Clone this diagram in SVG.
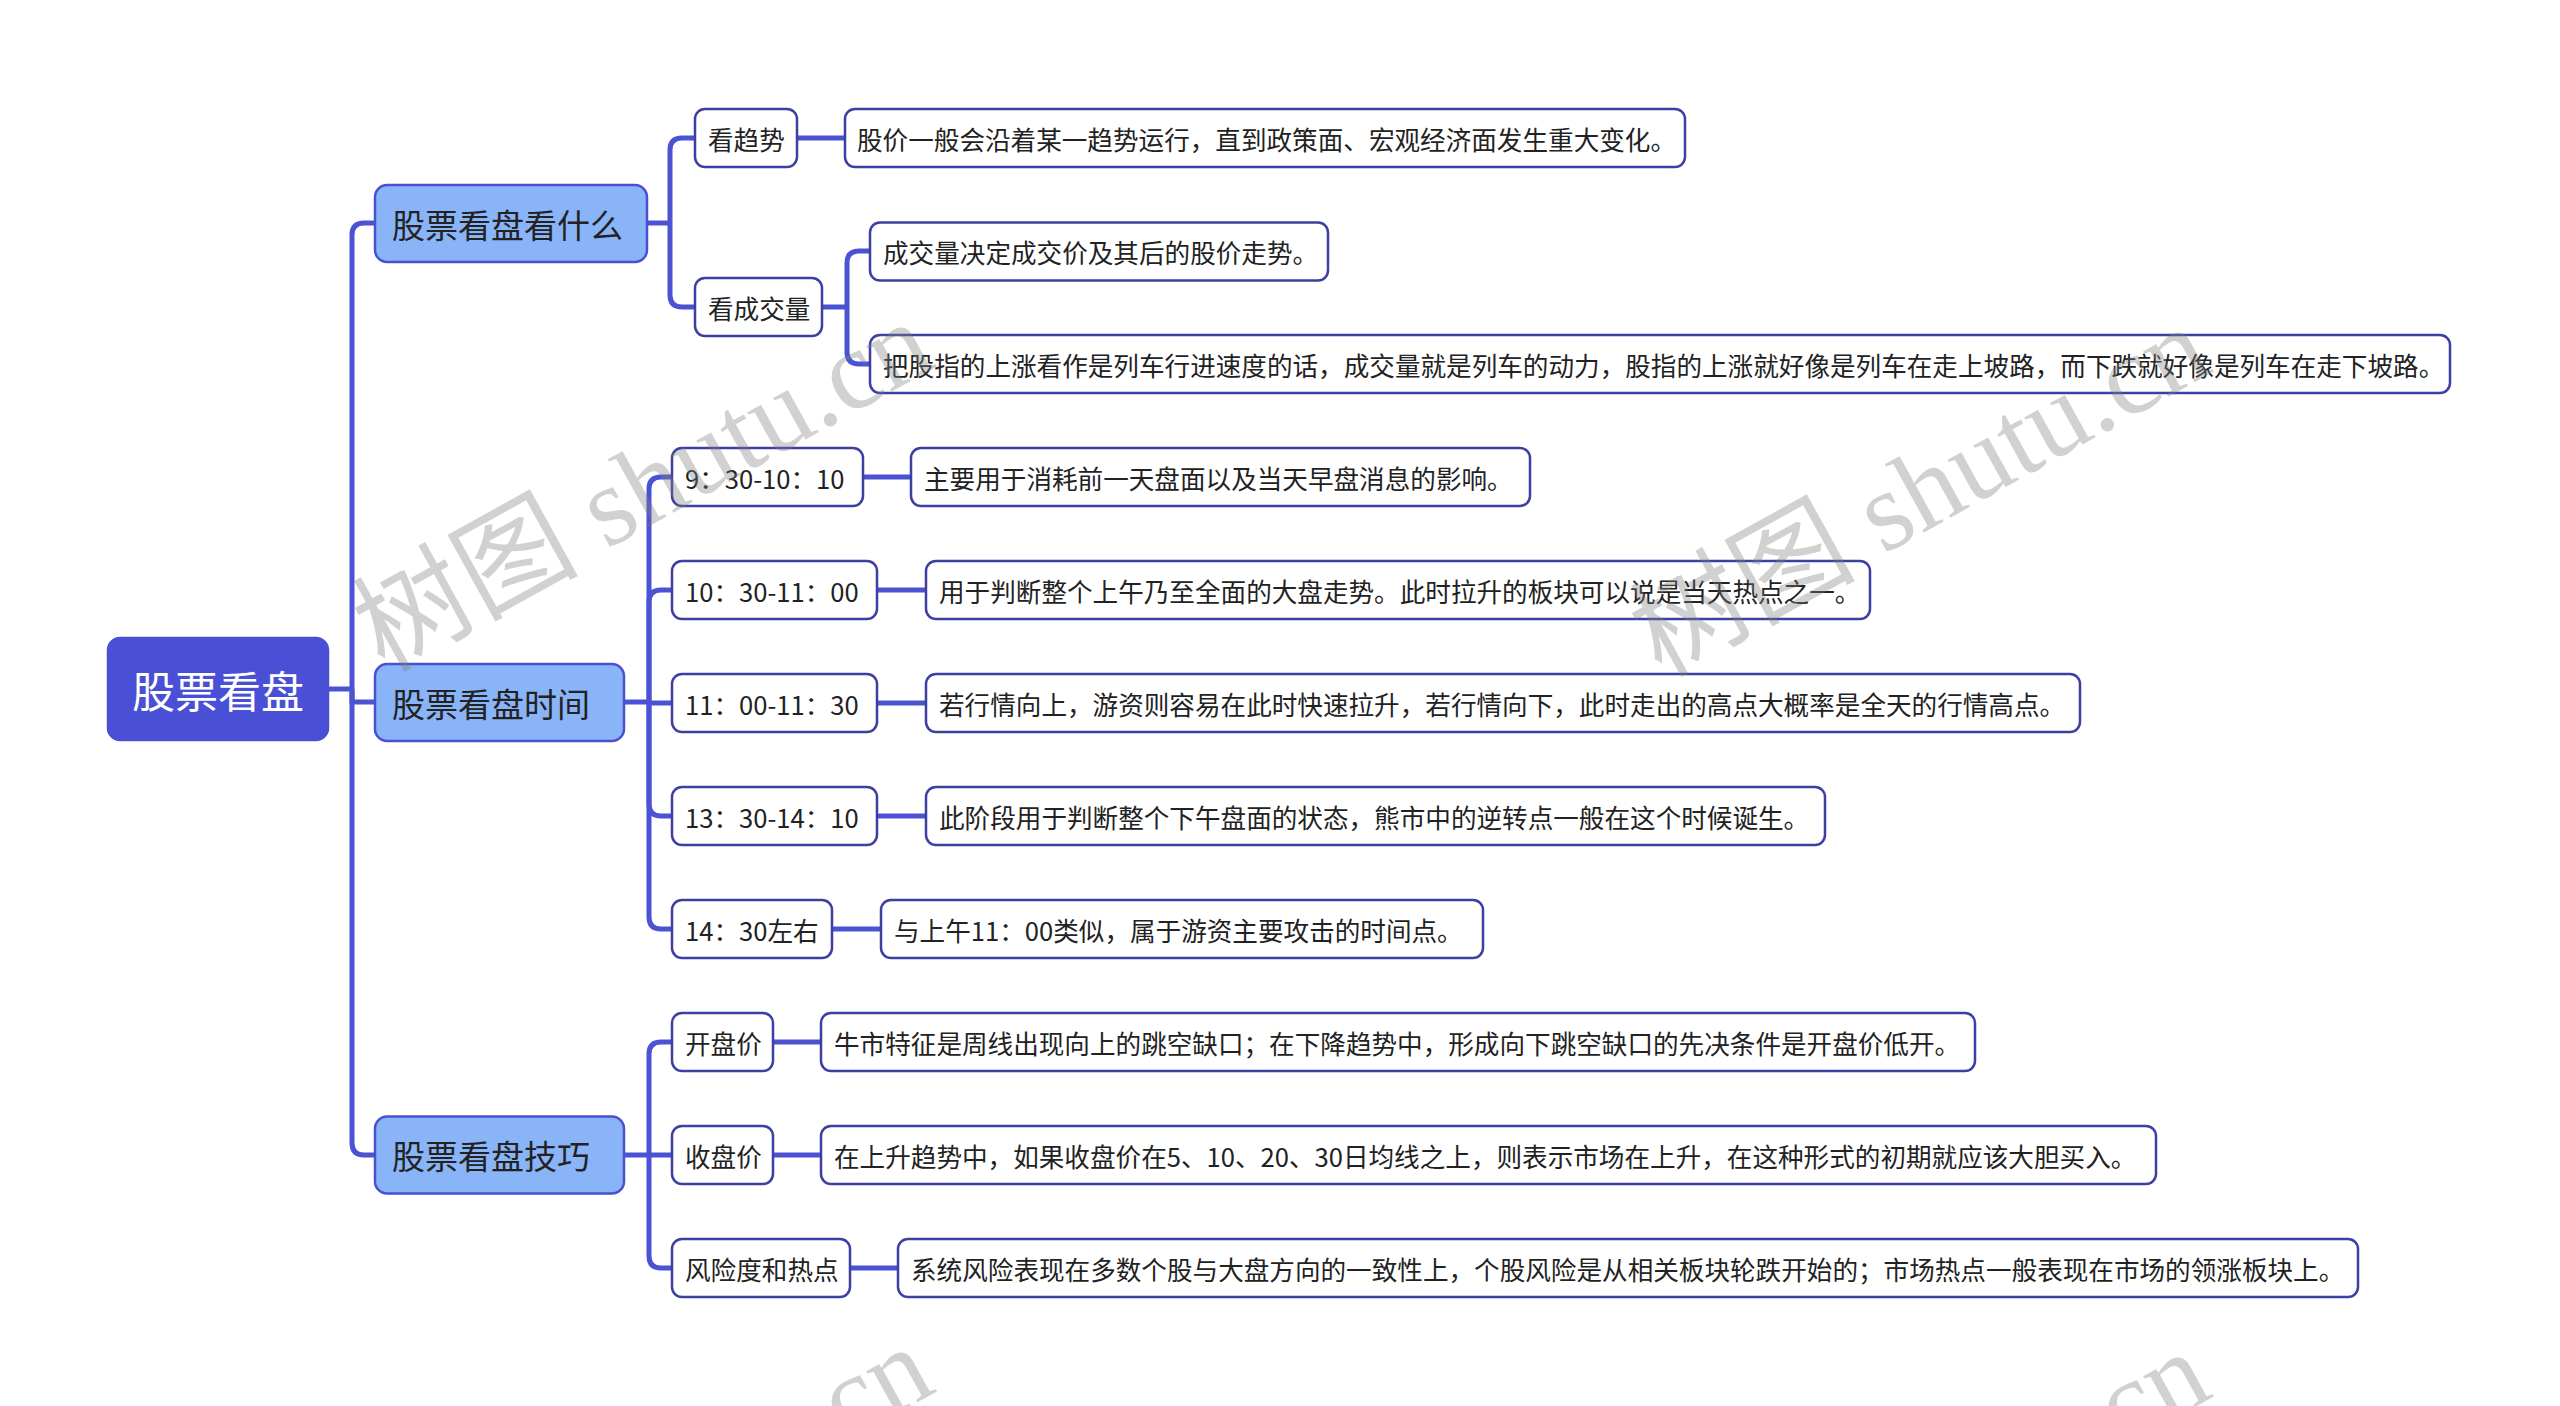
<svg xmlns="http://www.w3.org/2000/svg" xmlns:xlink="http://www.w3.org/1999/xlink" width="2560" height="1406" viewBox="0 0 2560 1406">
<style>
text{font-family:"Noto Sans CJK SC","Noto Sans",sans-serif;dominant-baseline:central}
.l0 rect{fill:#4a50d6;stroke:#4a50d0;stroke-width:2.5}
.l0 text{fill:#ffffff;font-size:43px;text-anchor:middle}
.l1 rect{fill:#8ab4f8;stroke:#4a50d0;stroke-width:2.5}
.l1 text{fill:#222222;font-size:33px}
.l2 rect{fill:#ffffff;stroke:#3c40a0;stroke-width:2.5}
.l2 text{fill:#222222;font-size:25.6px}
.conn path{fill:none;stroke:#4b52d4;stroke-width:5;stroke-linejoin:round}
.wm{font-family:"Liberation Serif","Noto Sans CJK SC",serif;font-size:113px;fill:#808080;fill-opacity:0.36;dominant-baseline:auto}
</style>
<rect width="2560" height="1406" fill="#ffffff"/>
<g class="conn" id="connectors">
<path d="M328,689 H352"/>
<path d="M352,689 V235 Q352,223 364,223 H375"/>
<path d="M352,689 V702 H375"/>
<path d="M352,689 V1143 Q352,1155 364,1155 H375"/>
<path d="M647,223 H670"/>
<path d="M670,223 V150 Q670,138 682,138 H695"/>
<path d="M670,223 V295 Q670,307 682,307 H695"/>
<path d="M797,138 H845"/>
<path d="M822,307 H847"/>
<path d="M847,307 V263 Q847,251 859,251 H870"/>
<path d="M847,307 V352 Q847,364 859,364 H870"/>
<path d="M624,702 H649"/>
<path d="M649,702 V489 Q649,477 661,477 H672"/>
<path d="M649,702 V602 Q649,590 661,590 H672"/>
<path d="M649,702 V703 H672"/>
<path d="M649,702 V804 Q649,816 661,816 H672"/>
<path d="M649,702 V917 Q649,929 661,929 H672"/>
<path d="M863,477 H911"/>
<path d="M877,590 H926"/>
<path d="M877,703 H926"/>
<path d="M877,816 H926"/>
<path d="M832,929 H881"/>
<path d="M624,1155 H649"/>
<path d="M649,1155 V1054 Q649,1042 661,1042 H672"/>
<path d="M649,1155 H672"/>
<path d="M649,1155 V1256 Q649,1268 661,1268 H672"/>
<path d="M773,1042 H821"/>
<path d="M773,1155 H821"/>
<path d="M850,1268 H898"/>
</g>
<g id="root" class="l0"><rect x="108" y="638" width="220" height="102" rx="12"/><text x="218" y="689">股票看盘</text></g>
<g id="n-what" class="l1"><rect x="375" y="185" width="272" height="77" rx="12"/><text x="392" y="223.5">股票看盘看什么</text></g>
<g id="n-time" class="l1"><rect x="375" y="664" width="249" height="77" rx="12"/><text x="392" y="702.5">股票看盘时间</text></g>
<g id="n-skill" class="l1"><rect x="375" y="1116.5" width="249" height="77" rx="12"/><text x="392" y="1155">股票看盘技巧</text></g>
<g id="n-trend" class="l2"><rect x="695" y="109" width="102" height="58" rx="10"/><text x="708" y="138">看趋势</text></g>
<g id="n-trend-d" class="l2"><rect x="845" y="109" width="840" height="58" rx="10"/><text x="857" y="138">股价一般会沿着某一趋势运行，直到政策面、宏观经济面发生重大变化。</text></g>
<g id="n-vol" class="l2"><rect x="695" y="278" width="127" height="58" rx="10"/><text x="708" y="307">看成交量</text></g>
<g id="n-vol-d1" class="l2"><rect x="870" y="222.5" width="458" height="58" rx="10"/><text x="883" y="251.5">成交量决定成交价及其后的股价走势。</text></g>
<g id="n-vol-d2" class="l2"><rect x="870" y="335" width="1580" height="58" rx="10"/><text x="883" y="364">把股指的上涨看作是列车行进速度的话，成交量就是列车的动力，股指的上涨就好像是列车在走上坡路，而下跌就好像是列车在走下坡路。</text></g>
<g id="n-t1" class="l2"><rect x="672" y="448" width="191" height="58" rx="10"/><text x="685" y="477">9：30-10：10</text></g>
<g id="n-t1-d" class="l2"><rect x="911" y="448" width="619" height="58" rx="10"/><text x="924" y="477">主要用于消耗前一天盘面以及当天早盘消息的影响。</text></g>
<g id="n-t2" class="l2"><rect x="672" y="561" width="205" height="58" rx="10"/><text x="685" y="590">10：30-11：00</text></g>
<g id="n-t2-d" class="l2"><rect x="926" y="561" width="944" height="58" rx="10"/><text x="939" y="590">用于判断整个上午乃至全面的大盘走势。此时拉升的板块可以说是当天热点之一。</text></g>
<g id="n-t3" class="l2"><rect x="672" y="674" width="205" height="58" rx="10"/><text x="685" y="703">11：00-11：30</text></g>
<g id="n-t3-d" class="l2"><rect x="926" y="674" width="1154" height="58" rx="10"/><text x="939" y="703">若行情向上，游资则容易在此时快速拉升，若行情向下，此时走出的高点大概率是全天的行情高点。</text></g>
<g id="n-t4" class="l2"><rect x="672" y="787" width="205" height="58" rx="10"/><text x="685" y="816">13：30-14：10</text></g>
<g id="n-t4-d" class="l2"><rect x="926" y="787" width="899" height="58" rx="10"/><text x="939" y="816">此阶段用于判断整个下午盘面的状态，熊市中的逆转点一般在这个时候诞生。</text></g>
<g id="n-t5" class="l2"><rect x="672" y="900" width="160" height="58" rx="10"/><text x="685" y="929">14：30左右</text></g>
<g id="n-t5-d" class="l2"><rect x="881" y="900" width="602" height="58" rx="10"/><text x="894" y="929">与上午11：00类似，属于游资主要攻击的时间点。</text></g>
<g id="n-open" class="l2"><rect x="672" y="1013" width="101" height="58" rx="10"/><text x="685" y="1042">开盘价</text></g>
<g id="n-open-d" class="l2"><rect x="821" y="1013" width="1154" height="58" rx="10"/><text x="834" y="1042">牛市特征是周线出现向上的跳空缺口；在下降趋势中，形成向下跳空缺口的先决条件是开盘价低开。</text></g>
<g id="n-close" class="l2"><rect x="672" y="1126" width="101" height="58" rx="10"/><text x="685" y="1155">收盘价</text></g>
<g id="n-close-d" class="l2"><rect x="821" y="1126" width="1335" height="58" rx="10"/><text x="834" y="1155">在上升趋势中，如果收盘价在5、10、20、30日均线之上，则表示市场在上升，在这种形式的初期就应该大胆买入。</text></g>
<g id="n-risk" class="l2"><rect x="672" y="1239" width="178" height="58" rx="10"/><text x="685" y="1268">风险度和热点</text></g>
<g id="n-risk-d" class="l2"><rect x="898" y="1239" width="1460" height="58" rx="10"/><text x="911" y="1268">系统风险表现在多数个股与大盘方向的一致性上，个股风险是从相关板块轮跌开始的；市场热点一般表现在市场的领涨板块上。</text></g>
<g id="watermark">
<text class="wm" transform="translate(384,673) rotate(-29)">树图 shutu.cn</text>
<text class="wm" transform="translate(1661,678) rotate(-29)">树图 shutu.cn</text>
<text class="wm" transform="translate(384,1698) rotate(-29)">树图 shutu.cn</text>
<text class="wm" transform="translate(1661,1703) rotate(-29)">树图 shutu.cn</text>
</g>
</svg>
